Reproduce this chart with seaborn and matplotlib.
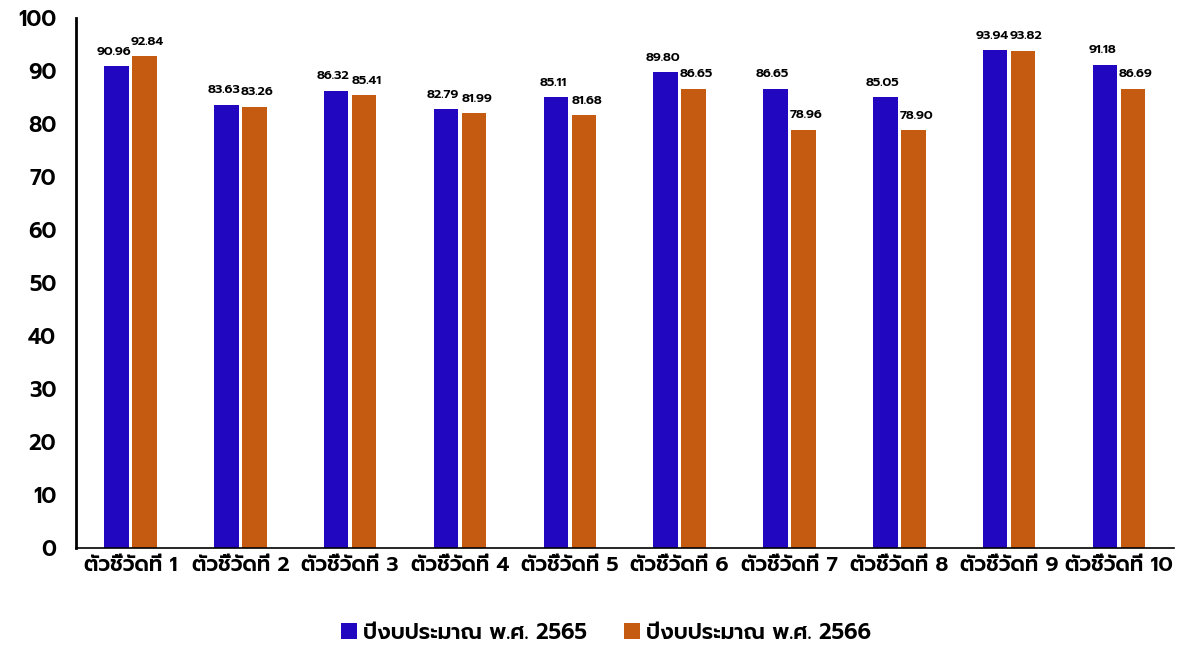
import pandas as pd
import matplotlib
matplotlib.use("Agg")
import matplotlib.pyplot as plt
import seaborn as sns

categories = ["ตัวชี้วัดที่ 1", "ตัวชี้วัดที่ 2", "ตัวชี้วัดที่ 3", "ตัวชี้วัดที่ 4", "ตัวชี้วัดที่ 5",
              "ตัวชี้วัดที่ 6", "ตัวชี้วัดที่ 7", "ตัวชี้วัดที่ 8", "ตัวชี้วัดที่ 9", "ตัวชี้วัดที่ 10"]
series_names = ["ปีงบประมาณ พ.ศ. 2565", "ปีงบประมาณ พ.ศ. 2566"]
values_2565 = [90.96, 83.63, 86.32, 82.79, 85.11, 89.80, 86.65, 85.05, 93.94, 91.18]
values_2566 = [92.84, 83.26, 85.41, 81.99, 81.68, 86.65, 78.96, 78.90, 93.82, 86.69]
y_ticks = [0, 10, 20, 30, 40, 50, 60, 70, 80, 90, 100]

sns.set_style("white")
# ฟอนต์ไทย (Prompt) + สำรอง DejaVu
plt.rcParams["font.family"] = ["Prompt", "DejaVu Sans"]
plt.rcParams["text.color"] = "black"
plt.rcParams["xtick.color"] = "black"
plt.rcParams["ytick.color"] = "black"

df = pd.DataFrame({
    "ตัวชี้วัด": categories * 2,
    "ค่า": values_2565 + values_2566,
    "ปี": [series_names[0]] * len(categories) + [series_names[1]] * len(categories),
})

fig = plt.figure(figsize=(11.81, 6.46), dpi=100)
ax = fig.add_axes([0.064, 0.152, 0.93, 0.82])

sns.barplot(data=df, x="ตัวชี้วัด", y="ค่า", hue="ปี", ax=ax,
            palette=["#2107C0", "#C55A11"], width=0.51, gap=0.13,
            edgecolor="none", saturation=1)

# ป้ายค่าบนแท่ง: ขยับซ้าย/ขวาเล็กน้อยไม่ให้ชนกัน
for i, cont in enumerate(ax.containers):
    dx = -2 if i == 0 else 2
    for bar in cont:
        ax.annotate(f"{bar.get_height():.2f}",
                    (bar.get_x() + bar.get_width() / 2, bar.get_height()),
                    xytext=(dx, 6), textcoords="offset points",
                    ha="center", va="bottom", fontsize=9.2, fontweight=600)

ax.set_ylim(0, 100)
ax.set_xlim(-0.5, 9.5)
ax.set_yticks(y_ticks)
ax.tick_params(axis="y", labelsize=15.5, length=0, pad=14)
ax.tick_params(axis="x", labelsize=15, length=0, pad=6)
for lbl in ax.get_yticklabels() + ax.get_xticklabels():
    lbl.set_fontweight(600)
ax.set_xlabel("")
ax.set_ylabel("")
sns.despine(ax=ax, top=True, right=True)
ax.spines["left"].set_color("black")
ax.spines["bottom"].set_color("black")
ax.spines["left"].set_linewidth(2)
ax.spines["bottom"].set_linewidth(1.2)

ax.legend(loc="upper center", bbox_to_anchor=(0.483, -0.105), ncol=2, frameon=False,
          prop={"size": 15.5, "weight": 600}, handlelength=0.75, handleheight=0.75,
          handletextpad=0.3, columnspacing=1.7)

fig.savefig("out.png", dpi=100)
